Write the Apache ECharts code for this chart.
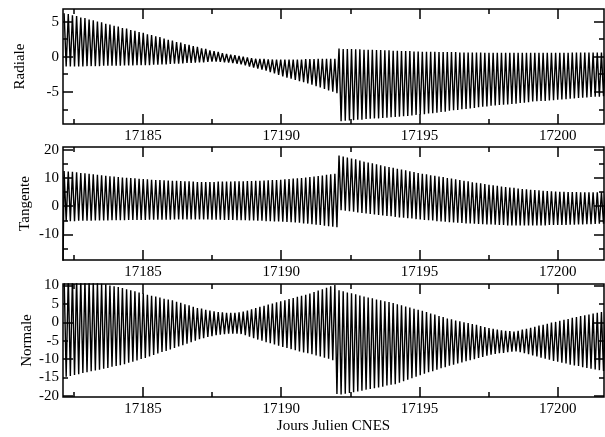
<!DOCTYPE html>
<html><head><meta charset="utf-8">
<script src="https://cdn.jsdelivr.net/npm/echarts@6/dist/echarts.min.js"></script>
<style>html,body{margin:0;padding:0;background:#fff}#c{width:605px;height:437px}</style>
</head><body><div id="c"></div>
<script>
// ---- data: one upper and one lower peak per oscillation cycle ----
const startDay = 17182.15;      // Julian day (CNES) of the first peak
const cycleDays = 0.1506;       // apparent oscillation period in days
const xMajorTicks = [17185, 17190, 17195, 17200];
const xMinorTicks = [17182.5, 17187.5, 17192.5, 17197.5];

const radialeUpper = [
 6.2,6.1,5.9,5.8,5.6,5.5,5.3,5.2,5.0,4.9,
 4.7,4.6,4.4,4.3,4.1,4.0,3.8,3.7,3.5,3.4,
 3.2,3.1,2.9,2.8,2.6,2.4,2.3,2.1,2.0,1.8,
 1.7,1.5,1.4,1.2,1.1,0.9,0.8,0.7,0.5,0.4,
 0.3,0.2,0.1,0.0,-0.1,-0.2,-0.3,-0.3,-0.3,-0.4,
 -0.4,-0.4,-0.4,-0.4,-0.4,-0.4,-0.4,-0.4,-0.35,-0.35,
 -0.35,-0.3,-0.3,-0.3,-0.3,-0.3,1.15,1.1,1.1,1.1,
 1.05,1.05,1.0,1.0,1.0,0.95,0.95,0.9,0.9,0.85,
 0.85,0.8,0.8,0.8,0.75,0.75,0.7,0.7,0.7,0.7,
 0.65,0.65,0.65,0.65,0.65,0.6,0.6,0.6,0.6,0.6,
 0.6,0.55,0.55,0.55,0.55,0.55,0.55,0.55,0.55,0.55,
 0.55,0.55,0.55,0.55,0.55,0.55,0.55,0.55,0.55,0.55,
 0.55,0.55,0.6,0.6,0.6,0.6,0.6,0.6,0.6,0.6,0.6];
const radialeLower = [
 -1.4,-1.4,-1.4,-1.4,-1.4,-1.35,-1.35,-1.35,-1.35,-1.3,
 -1.3,-1.3,-1.3,-1.3,-1.25,-1.25,-1.25,-1.2,-1.2,-1.2,
 -1.2,-1.15,-1.15,-1.1,-1.1,-1.05,-1.0,-1.0,-0.95,-0.9,
 -0.9,-0.85,-0.8,-0.8,-0.75,-0.7,-0.7,-0.75,-0.8,-0.85,
 -0.9,-1.0,-1.1,-1.25,-1.4,-1.55,-1.7,-1.85,-2.0,-2.2,
 -2.4,-2.6,-2.8,-3.0,-3.15,-3.3,-3.5,-3.65,-3.8,-4.0,
 -4.2,-4.4,-4.6,-4.8,-5.0,-5.2,-9.2,-9.15,-9.1,-9.05,
 -9.0,-9.0,-8.9,-8.85,-8.8,-8.8,-8.75,-8.7,-8.65,-8.6,
 -8.55,-8.5,-8.45,-8.4,-8.3,-8.25,-8.2,-8.1,-8.05,-8.0,
 -7.9,-7.85,-7.7,-7.65,-7.6,-7.5,-7.45,-7.4,-7.3,-7.2,
 -7.15,-7.1,-7.0,-6.95,-6.9,-6.85,-6.8,-6.75,-6.7,-6.6,
 -6.55,-6.5,-6.4,-6.35,-6.3,-6.3,-6.25,-6.2,-6.15,-6.1,
 -6.05,-6.0,-5.95,-5.9,-5.85,-5.8,-5.75,-5.7,-5.7,-5.65,-5.6];

const tangenteStart = -19.5;   // first sample, far below the band
const tangenteUpper = [
 12.5,12.3,12.2,12.0,11.8,11.7,11.5,11.3,11.1,11.0,
 10.8,10.6,10.5,10.3,10.2,10.1,10.0,9.9,9.7,9.6,
 9.5,9.4,9.3,9.3,9.2,9.1,9.0,9.0,8.9,8.8,
 8.8,8.7,8.6,8.6,8.6,8.6,8.6,8.7,8.7,8.7,
 8.7,8.8,8.8,8.8,8.9,8.9,9.0,9.0,9.1,9.2,
 9.3,9.3,9.4,9.5,9.6,9.8,9.9,10.0,10.2,10.3,
 10.5,10.7,10.9,11.1,11.3,11.5,18.0,17.6,17.3,16.9,
 16.6,16.2,15.8,15.5,15.2,14.9,14.5,14.2,13.9,13.6,
 13.3,13.0,12.7,12.4,12.1,11.8,11.5,11.3,11.0,10.8,
 10.5,10.3,10.0,9.8,9.5,9.3,9.0,8.8,8.5,8.3,
 8.1,7.9,7.6,7.4,7.2,7.0,6.8,6.6,6.5,6.3,
 6.1,6.0,5.8,5.7,5.6,5.5,5.4,5.3,5.2,5.1,
 5.1,5.0,5.0,5.0,4.9,4.9,4.9,4.9,4.9,4.9,4.9];
const tangenteLower = [
 -5.3,-5.3,-5.3,-5.2,-5.2,-5.2,-5.2,-5.1,-5.1,-5.1,
 -5.1,-5.0,-5.0,-5.0,-5.0,-4.9,-4.9,-4.9,-4.9,-4.9,
 -4.8,-4.8,-4.8,-4.8,-4.8,-4.8,-4.7,-4.7,-4.7,-4.7,
 -4.7,-4.7,-4.7,-4.7,-4.7,-4.8,-4.8,-4.8,-4.9,-4.9,
 -4.9,-5.0,-5.0,-5.0,-5.1,-5.1,-5.2,-5.2,-5.3,-5.3,
 -5.4,-5.4,-5.5,-5.6,-5.7,-5.8,-5.9,-6.1,-6.2,-6.4,
 -6.6,-6.7,-6.9,-7.1,-7.3,-7.5,-1.4,-1.6,-1.8,-2.0,
 -2.2,-2.4,-2.6,-2.8,-2.9,-3.1,-3.3,-3.5,-3.6,-3.8,
 -4.0,-4.1,-4.3,-4.4,-4.6,-4.7,-4.9,-5.0,-5.1,-5.3,
 -5.4,-5.5,-5.7,-5.8,-5.9,-6.0,-6.1,-6.1,-6.2,-6.3,
 -6.4,-6.5,-6.5,-6.6,-6.7,-6.7,-6.8,-6.8,-6.8,-6.8,
 -6.8,-6.8,-6.8,-6.8,-6.8,-6.8,-6.7,-6.7,-6.7,-6.7,
 -6.7,-6.6,-6.6,-6.5,-6.5,-6.4,-6.4,-6.3,-6.2,-6.2,-6.1];

const normaleUpper = [
 12.5,12.3,12.1,11.9,11.7,11.5,11.3,11.0,10.8,10.5,
 10.3,10.0,9.8,9.6,9.3,9.0,8.7,8.4,8.1,7.8,
 7.5,7.2,7.0,6.7,6.4,6.2,6.0,5.6,5.3,4.9,
 4.6,4.2,3.9,3.7,3.4,3.2,3.0,2.8,2.7,2.6,
 2.6,2.6,2.7,2.9,3.2,3.5,3.9,4.2,4.5,4.8,
 5.1,5.4,5.7,6.0,6.3,6.6,6.9,7.2,7.5,7.8,
 8.2,8.6,9.0,9.4,9.8,10.1,8.7,8.4,8.1,7.9,
 7.6,7.3,7.0,6.7,6.5,6.2,6.0,5.7,5.5,5.2,
 4.9,4.6,4.3,4.0,3.7,3.4,3.1,2.8,2.4,2.1,
 1.7,1.4,1.0,0.8,0.5,0.3,0.0,-0.2,-0.5,-0.7,
 -1.0,-1.3,-1.6,-1.8,-2.0,-2.2,-2.3,-2.4,-2.5,-2.3,
 -2.0,-1.8,-1.5,-1.2,-0.9,-0.7,-0.4,-0.1,0.1,0.4,
 0.7,0.9,1.2,1.4,1.7,1.9,2.1,2.4,2.6,2.8,3.0];
const normaleLower = [
 -14.8,-14.6,-14.3,-14.1,-13.8,-13.6,-13.3,-13.1,-12.9,-12.6,
 -12.4,-12.1,-11.9,-11.7,-11.4,-11.0,-10.7,-10.4,-10.0,-9.7,
 -9.3,-8.9,-8.5,-8.1,-7.8,-7.4,-7.0,-6.6,-6.2,-5.8,
 -5.4,-5.0,-4.6,-4.3,-4.0,-3.8,-3.5,-3.4,-3.2,-3.1,
 -3.1,-3.1,-3.2,-3.5,-3.9,-4.3,-4.7,-5.0,-5.4,-5.7,
 -6.0,-6.4,-6.7,-7.0,-7.3,-7.6,-7.9,-8.2,-8.4,-8.7,
 -9.0,-9.3,-9.6,-9.9,-10.3,-19.5,-19.6,-19.4,-19.2,-19.0,
 -18.8,-18.6,-18.3,-18.1,-17.9,-17.7,-17.5,-17.2,-17.0,-16.8,
 -16.4,-16.0,-15.6,-15.2,-14.8,-14.4,-14.0,-13.6,-13.3,-12.9,
 -12.5,-12.2,-11.8,-11.5,-11.2,-10.9,-10.6,-10.3,-10.0,-9.7,
 -9.4,-9.1,-8.8,-8.6,-8.4,-8.3,-8.1,-8.0,-7.9,-8.1,
 -8.4,-8.7,-9.0,-9.3,-9.6,-9.9,-10.2,-10.5,-10.7,-11.0,
 -11.2,-11.5,-11.7,-11.9,-12.2,-12.4,-12.6,-12.8,-13.0,-13.2,-13.4];

const radialeMajor = [-5, 0, 5], radialeMinor = [-7.5, -2.5, 2.5], radialeLabels = [-5, 0, 5];
const tangenteMajor = [-10, 0, 10, 20], tangenteMinor = [-15, -5, 5, 15], tangenteLabels = [-10, 0, 10, 20];
const normaleMajor = [-20, -10, 0, 10], normaleMinor = [-15, -5, 5], normaleLabels = [-20, -15, -10, -5, 0, 5, 10];

// ---- layout ----
const FONT = 'Liberation Serif';
const xMin = 17182.11, xMax = 17201.67;
const panels = [
  {name:'Radiale',  up:radialeUpper,  lo:radialeLower,  start:null, yMin:-9.6, yMax:6.8,
   major:radialeMajor, minor:radialeMinor, labels:radialeLabels, top:9, height:115, nameGap:35},
  {name:'Tangente', up:tangenteUpper, lo:tangenteLower, start:tangenteStart, yMin:-19.1, yMax:21,
   major:tangenteMajor, minor:tangenteMinor, labels:tangenteLabels, top:147, height:113, nameGap:30},
  {name:'Normale',  up:normaleUpper,  lo:normaleLower,  start:null, yMin:-20.3, yMax:10.4,
   major:normaleMajor, minor:normaleMinor, labels:normaleLabels, top:284, height:113, nameGap:28}
];

function zigzag(p) {
  const d = [];
  if (p.start !== null) d.push([startDay - cycleDays / 4, p.start]);
  for (let k = 0; k < p.up.length; k++) {
    d.push([startDay + k * cycleDays, p.up[k]]);
    d.push([startDay + (k + 0.5) * cycleDays, p.lo[k]]);
  }
  return d;
}

const grid = [], xAxis = [], yAxis = [], series = [];
const tickStyle = {color:'#000', width:1.5};
const labelStyle = {fontFamily:FONT, fontSize:15, color:'#000'};
const noLine = {show:false, onZero:false};
panels.forEach((p, i) => {
  grid.push({left:63, right:1, top:p.top, height:p.height, show:true, borderColor:'#000', borderWidth:1.5, backgroundColor:'transparent'});
  const xBase = {gridIndex:i, type:'value', min:xMin, max:xMax, axisLine:noLine, splitLine:{show:false}};
  const xi = xAxis.length;
  xAxis.push(Object.assign({}, xBase, {position:'bottom',
    axisTick:{inside:true, length:10, customValues:xMajorTicks, lineStyle:tickStyle},
    axisLabel:Object.assign({customValues:xMajorTicks, margin:5, formatter:v => String(v)}, labelStyle),
    name: i === 2 ? 'Jours Julien CNES' : '', nameLocation:'middle', nameGap:22, nameMoveOverlap:false,
    nameTextStyle:labelStyle}));
  xAxis.push(Object.assign({}, xBase, {position:'bottom',
    axisTick:{inside:true, length:5, customValues:xMinorTicks, lineStyle:tickStyle}, axisLabel:{show:false}}));
  xAxis.push(Object.assign({}, xBase, {position:'top',
    axisTick:{inside:true, length:10, customValues:xMajorTicks, lineStyle:tickStyle}, axisLabel:{show:false}}));
  xAxis.push(Object.assign({}, xBase, {position:'top',
    axisTick:{inside:true, length:5, customValues:xMinorTicks, lineStyle:tickStyle}, axisLabel:{show:false}}));

  const yBase = {gridIndex:i, type:'value', min:p.yMin, max:p.yMax, axisLine:noLine, splitLine:{show:false}};
  const yi = yAxis.length;
  yAxis.push(Object.assign({}, yBase, {position:'left',
    axisTick:{inside:true, length:10, customValues:p.major, lineStyle:tickStyle},
    axisLabel:Object.assign({customValues:p.labels, margin:4, formatter:v => String(v)}, labelStyle),
    name:p.name, nameLocation:'middle', nameGap:p.nameGap, nameRotate:90, nameMoveOverlap:false,
    nameTextStyle:labelStyle}));
  yAxis.push(Object.assign({}, yBase, {position:'left',
    axisTick:{inside:true, length:5, customValues:p.minor, lineStyle:tickStyle}, axisLabel:{show:false}}));
  yAxis.push(Object.assign({}, yBase, {position:'right',
    axisTick:{inside:true, length:10, customValues:p.major, lineStyle:tickStyle}, axisLabel:{show:false}}));
  yAxis.push(Object.assign({}, yBase, {position:'right',
    axisTick:{inside:true, length:5, customValues:p.minor, lineStyle:tickStyle}, axisLabel:{show:false}}));

  series.push({type:'line', xAxisIndex:xi, yAxisIndex:yi, data:zigzag(p), symbol:'none', clip:true,
    lineStyle:{color:'#000', width:1.4}, animation:false, silent:true});
});

const chart = echarts.init(document.getElementById('c'), null, {renderer:'canvas'});
chart.setOption({animation:false, backgroundColor:'#fff', grid, xAxis, yAxis, series});
</script>
</body></html>
